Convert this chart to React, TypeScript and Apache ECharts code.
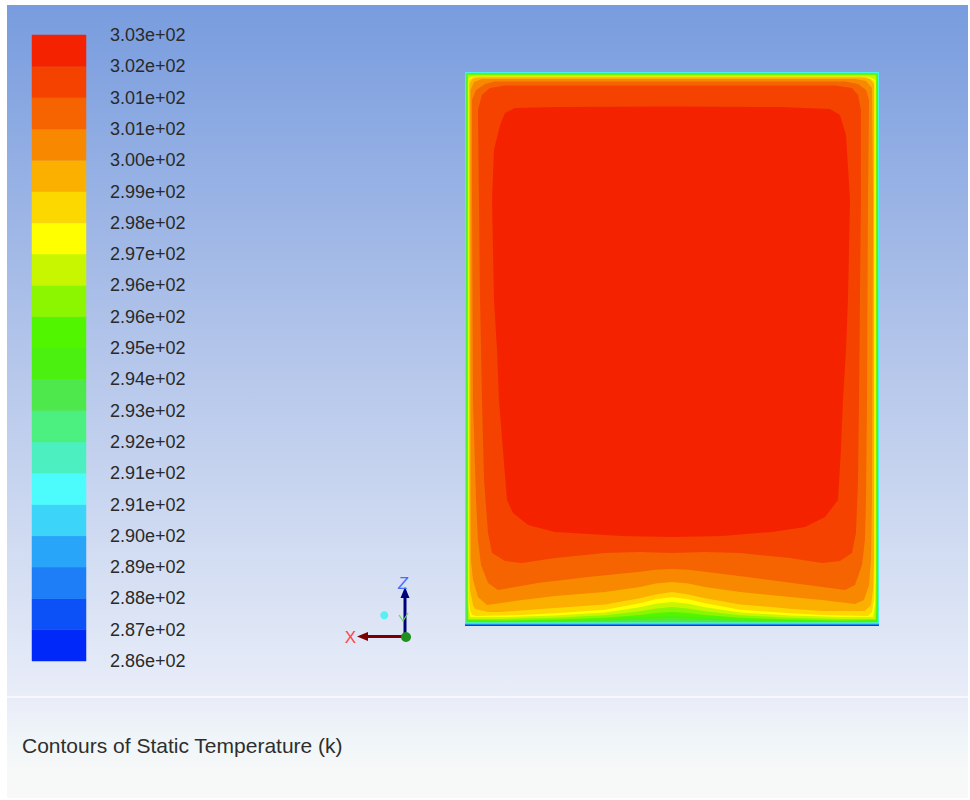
import { useEffect, useRef } from "react";
import * as echarts from "echarts";

// Legend tick labels (bottom -> top), static temperature in K
const tickLabels = [
  "2.86e+02", "2.87e+02", "2.88e+02", "2.89e+02", "2.90e+02", "2.91e+02", "2.91e+02",
  "2.92e+02", "2.93e+02", "2.94e+02", "2.95e+02", "2.96e+02", "2.96e+02", "2.97e+02",
  "2.98e+02", "2.99e+02", "3.00e+02", "3.01e+02", "3.01e+02", "3.02e+02", "3.03e+02",
];

// Band colours (coldest -> hottest)
const bandColors = [
  "#0028f8", "#0c50f8", "#1e7ef8", "#28a4f8", "#3cd4f8", "#4cfcfc", "#4cf0c0",
  "#4cf080", "#4ee84c", "#4cf010", "#52f500", "#8cf500", "#c8f500", "#ffff00",
  "#fdd800", "#fbb000", "#f88800", "#f56400", "#f54200", "#f52200",
];

// Cavity size (mm)
const cavityWidth = 300;
const cavityHeight = 400;

// Thin wall layers for the coldest levels: [xLeft, xRight, yBottom, yTop] in mm
const wallLayers = [
  [0, 300, 0, 400],
  [0, 300, 0.4, 400],
  [0, 300, 0.8, 400],
  [0, 300, 1.2, 400],
  [0, 300, 1.6, 400],
  [0.2, 299.8, 2.0, 399.8],
  [0.5, 299.5, 2.3, 399.5],
  [0.8, 299.2, 2.6, 399.3],
  [1.0, 299.0, 2.9, 399.0],
];

// Isotherm outlines (region T >= band lower bound), [x mm, y mm]
const iso09 = [[1.2,398.8],[298.8,398.8],[298.8,18.8],[298.6,3.2],[271.7,2.9],[235.5,3.4],[199.3,3.9],[173.9,4.6],[161.6,5.1],[150,5.4],[138.4,5.1],[126.8,4.6],[101.4,3.9],[65.2,3.4],[29.0,2.9],[1.4,3.2],[1.2,18.8]];
const iso10 = [[1.4,398.5],[298.6,398.5],[298.6,18.8],[298.2,3.6],[271.7,3.2],[235.5,3.8],[199.3,4.5],[173.9,5.9],[161.6,6.7],[150,7.2],[138.4,6.7],[126.8,5.9],[101.4,4.5],[65.2,3.8],[29.0,3.2],[1.8,3.6],[1.4,18.8]];
const iso11 = [[1.8,398.2],[298.2,398.2],[298.2,18.8],[297.8,4.3],[271.7,4.0],[235.5,4.7],[199.3,5.9],[173.9,8.0],[161.6,9.4],[150,10.1],[138.4,9.4],[126.8,8.0],[101.4,5.9],[65.2,4.7],[29.0,4.0],[2.2,4.3],[1.8,18.8]];
const iso12 = [[2.2,397.7],[297.8,397.7],[297.8,18.8],[297.5,5.1],[271.7,5.1],[235.5,6.0],[199.3,7.7],[173.9,10.7],[161.6,12.7],[150,13.7],[138.4,12.7],[126.8,10.7],[101.4,7.7],[65.2,6.0],[29.0,5.1],[2.5,5.1],[2.2,18.8]];
const iso13 = [[2.5,394.9],[5.1,396.5],[292.0,396.5],[297.5,394.2],[297.5,33.2],[297.1,15.2],[295.7,6.5],[271.7,6.5],[235.5,7.6],[199.3,9.7],[173.9,13.5],[161.6,16.0],[150,17.3],[138.4,16.0],[126.8,13.5],[101.4,9.7],[65.2,7.6],[29.0,6.5],[3.6,6.5],[2.5,15.2],[2.5,33.2]];
const iso14 = [[2.9,394.2],[6.5,396.8],[290.6,396.8],[296.7,393.5],[296.7,40.4],[296.4,18.8],[294.9,10.1],[292.0,7.2],[258.7,7.9],[235.5,9.2],[199.3,11.8],[173.9,16.4],[161.6,19.3],[150,20.9],[138.4,19.3],[126.8,16.4],[101.4,11.8],[65.2,9.2],[41.3,7.9],[8.0,7.2],[5.1,7.9],[3.6,11.6],[2.9,18.8],[2.9,40.4]];
const iso15 = [[3.3,391.3],[5.1,394.9],[9.4,396.0],[287.7,396.0],[293.5,394.9],[296.4,391.3],[296.4,47.7],[295.7,26.0],[294.2,15.2],[289.8,10.8],[258.7,10.8],[235.5,12.5],[199.3,15.5],[173.9,20.0],[161.6,22.8],[150,24.5],[138.4,22.8],[126.8,20.0],[101.4,15.5],[65.2,13.0],[25.4,10.1],[16.7,10.1],[7.2,12.3],[5.8,15.2],[3.6,26.0],[3.3,47.7]];
const iso16 = [[4.0,387.0],[6.5,392.8],[12.3,394.9],[282.6,394.9],[290.6,393.5],[294.9,388.4],[295.7,307.6],[294.9,91.0],[294.2,47.7],[292.8,29.6],[289.1,18.8],[282.6,15.9],[258.7,18.8],[235.5,21.0],[199.3,24.5],[173.9,28.2],[161.6,30.6],[150,31.8],[138.4,30.6],[126.8,28.2],[101.4,24.5],[65.2,21.7],[41.3,18.8],[15.9,15.2],[9.4,20.9],[5.8,33.2],[4.3,47.7],[4.0,91.0],[4.0,307.6]];
const iso17 = [[5.1,379.8],[8.0,387.0],[14.5,391.3],[21.7,393.1],[275.4,393.1],[284.8,391.3],[290.6,387.0],[292.8,379.8],[292.0,307.6],[291.3,163.2],[290.6,91.0],[289.8,62.1],[287.7,44.0],[282.6,29.6],[275.4,26.0],[242.7,30.3],[210.1,34.7],[173.9,39.2],[161.6,40.6],[150,41.2],[138.4,40.6],[126.8,39.2],[89.1,35.4],[52.9,31.0],[23.9,26.0],[16.7,31.0],[11.6,44.0],[9.4,62.1],[8.0,91.0],[5.8,163.2],[5.1,307.6]];
const iso18 = [[9.4,372.6],[12.3,383.4],[18.1,388.4],[29.0,390.2],[268.1,390.2],[280.4,388.4],[284.8,383.4],[286.9,372.6],[286.9,307.6],[286.2,235.4],[285.5,163.2],[284.8,105.4],[283.3,67.1],[280.4,52.7],[271.7,46.9],[258.7,45.5],[235.5,49.1],[199.3,52.7],[173.9,53.4],[150,52.7],[126.8,53.4],[101.4,52.7],[65.2,49.1],[41.3,45.5],[29.0,46.9],[19.6,52.7],[16.7,67.1],[13.8,105.4],[12.3,163.2],[10.9,235.4],[10.1,307.6]];
const iso19 = [[25.4,361.7],[29.0,370.4],[36.2,374.0],[68.8,374.7],[150,375.1],[228.2,374.7],[264.5,373.3],[271.7,368.9],[276.1,354.5],[279.0,307.6],[277.5,235.4],[276.1,199.3],[273.9,163.2],[272.4,127.1],[270.3,91.0],[260.9,78.7],[246.4,71.5],[222.5,67.9],[186.2,65.0],[150,64.3],[113.8,65.0],[65.2,67.9],[45.7,72.9],[34.8,81.6],[30.4,91.0],[27.5,127.1],[24.6,163.2],[23.2,199.3],[21.0,235.4],[19.6,307.6],[21.0,343.7]];

const titleText = "Contours of Static Temperature (k)";
const FONT = "Liberation Sans, Arial, sans-serif";

export default function App() {
  const ref = useRef<HTMLDivElement>(null);

  useEffect(() => {
    const chart = echarts.init(ref.current!, null, { renderer: "svg" });

    const isotherms: number[][][] = [
      ...wallLayers.map(([x0, x1, y0, y1]) => [[x0, y1], [x1, y1], [x1, y0], [x0, y0]]),
      iso09, iso10, iso11, iso12, iso13, iso14, iso15, iso16, iso17, iso18, iso19,
    ];

    const option: any = {
      animation: false,
      backgroundColor: "#ffffff",
      graphic: {
        elements: [
          {
            type: "rect", z: -10, silent: true,
            shape: { x: 7, y: 5, width: 961, height: 691 },
            style: {
              fill: {
                type: "linear", x: 0, y: 0, x2: 0, y2: 1,
                colorStops: [
                  { offset: 0, color: "#789cde" },
                  { offset: 0.5, color: "#b3c5ea" },
                  { offset: 1, color: "#e8edf8" },
                ],
              },
            },
          },
          {
            type: "rect", z: -10, silent: true,
            shape: { x: 7, y: 696, width: 961, height: 2 },
            style: { fill: "#f7f8fd" },
          },
          {
            type: "rect", z: -10, silent: true,
            shape: { x: 7, y: 698, width: 961, height: 100 },
            style: {
              fill: {
                type: "linear", x: 0, y: 0, x2: 0, y2: 1,
                colorStops: [
                  { offset: 0, color: "#e9ecf8" },
                  { offset: 0.45, color: "#f0f6f8" },
                  { offset: 0.7, color: "#f7f8f8" },
                  { offset: 1, color: "#f8f8f8" },
                ],
              },
            },
          },
          {
            type: "text", z: 10, x: 22, y: 745, silent: true,
            style: { text: titleText, fill: "#2e2e2e", fontSize: 21, fontFamily: FONT, verticalAlign: "middle" },
          },
          // axis triad
          {
            type: "line", z: 10, silent: true,
            shape: { x1: 406, y1: 636.5, x2: 366, y2: 636.5 },
            style: { stroke: "#7a0000", lineWidth: 3 },
          },
          {
            type: "polygon", z: 10, silent: true,
            shape: { points: [[357, 636.5], [368, 632], [368, 641]] },
            style: { fill: "#7a0000" },
          },
          {
            type: "text", z: 10, x: 350.5, y: 637, silent: true,
            style: { text: "X", fill: "#ff4545", fontSize: 17, fontFamily: FONT, align: "center", verticalAlign: "middle" },
          },
          {
            type: "line", z: 10, silent: true,
            shape: { x1: 405, y1: 636, x2: 405, y2: 596 },
            style: { stroke: "#00007a", lineWidth: 3 },
          },
          {
            type: "polygon", z: 10, silent: true,
            shape: { points: [[405, 587], [400.5, 598], [409.5, 598]] },
            style: { fill: "#00007a" },
          },
          {
            type: "text", z: 10, x: 403, y: 583, silent: true,
            style: { text: "Z", fill: "#4a6cff", fontSize: 16, fontStyle: "italic", fontFamily: FONT, align: "center", verticalAlign: "middle" },
          },
          {
            type: "circle", z: 11, silent: true,
            shape: { cx: 406, cy: 637, r: 5 },
            style: { fill: "#1f8f1f" },
          },
          {
            type: "circle", z: 10, silent: true,
            shape: { cx: 384.3, cy: 615.3, r: 4 },
            style: { fill: "#55f0f0" },
          },
          {
            type: "polyline", z: 10, silent: true,
            shape: { points: [[399, 615], [403, 621], [408, 613]] },
            style: { stroke: "#6ad06a", lineWidth: 1.2, fill: null },
          },
        ],
      },
      grid: [
        { left: 32, top: 35, width: 54, height: 626 },
        { left: 465, top: 72, width: 414, height: 554 },
      ],
      xAxis: [
        { gridIndex: 0, type: "value", min: 0, max: 1, show: false },
        { gridIndex: 1, type: "value", min: 0, max: cavityWidth, show: false },
      ],
      yAxis: [
        {
          gridIndex: 0, type: "value", min: 0, max: tickLabels.length - 1, interval: 1,
          position: "right",
          axisLine: { show: false }, axisTick: { show: false }, splitLine: { show: false },
          axisLabel: {
            margin: 24, fontSize: 18, color: "#2a2a2a", fontFamily: FONT,
            showMinLabel: true, showMaxLabel: true,
            formatter: (v: number) => tickLabels[Math.round(v)] ?? "",
          },
        },
        { gridIndex: 1, type: "value", min: 0, max: cavityHeight, show: false },
      ],
      series: [
        {
          type: "custom", xAxisIndex: 0, yAxisIndex: 0, silent: true,
          data: bandColors.map((_, i) => [0, i]),
          renderItem: (_p: any, api: any) => {
            const i = api.value(1);
            const a = api.coord([0, i + 1]);
            const b = api.coord([1, i]);
            return {
              type: "rect",
              shape: { x: a[0], y: a[1], width: b[0] - a[0], height: b[1] - a[1] },
              style: { fill: bandColors[i], stroke: bandColors[i], lineWidth: 0.5 },
            };
          },
        },
        {
          type: "custom", xAxisIndex: 1, yAxisIndex: 1, silent: true, clip: true,
          data: isotherms.map((_, i) => [cavityWidth / 2, cavityHeight / 2, i]),
          renderItem: (_p: any, api: any) => {
            const lvl = api.value(2);
            const pts = isotherms[lvl].map((p) => api.coord(p));
            return {
              type: "polygon",
              shape: { points: pts },
              style: { fill: bandColors[lvl] },
            };
          },
        },
      ],
    };

    chart.setOption(option);
    return () => chart.dispose();
  }, []);

  return (
    <div
      ref={ref}
      style={{ position: "fixed", left: 0, top: 0, width: 970, height: 800 }}
    />
  );
}
